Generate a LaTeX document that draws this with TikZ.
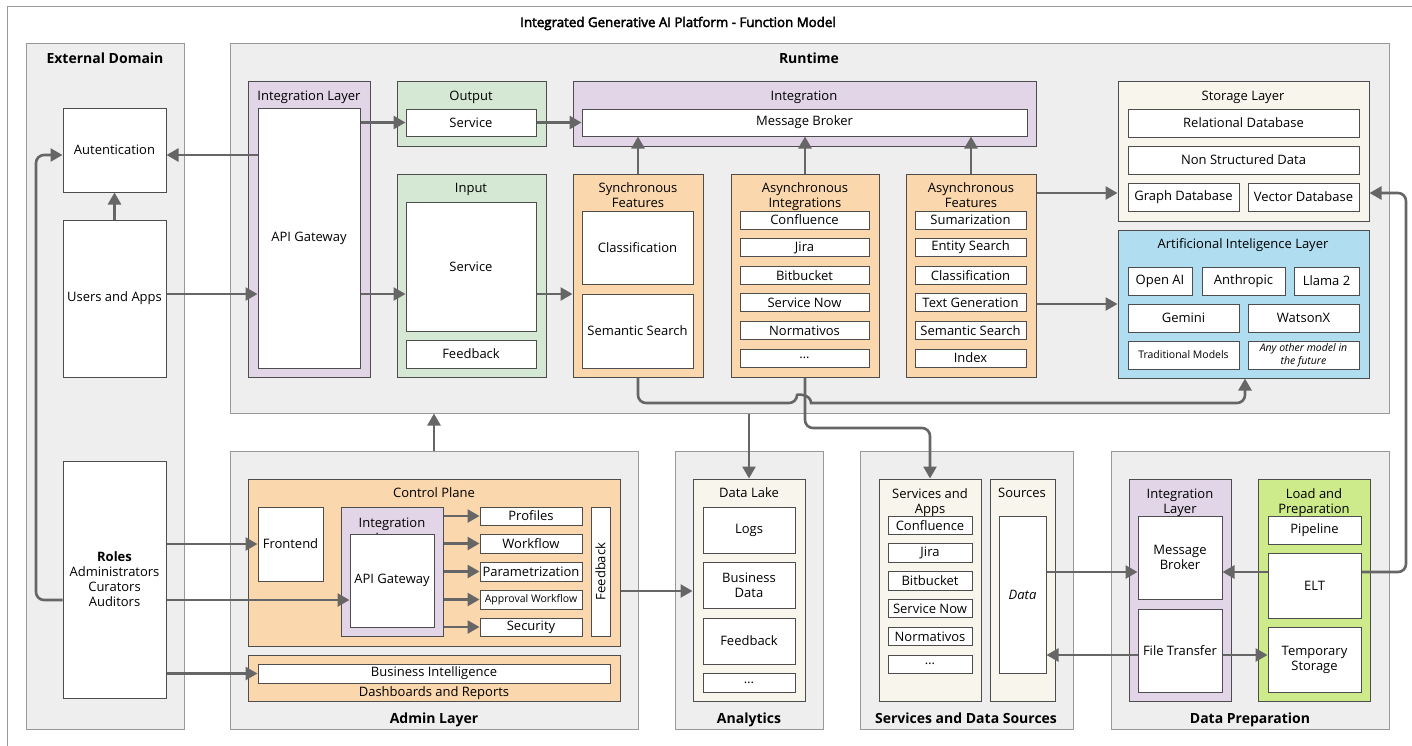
\documentclass[tikz,border=0pt]{standalone}
\usepackage{fontspec}
\setmainfont{Open Sans}
\newfontfamily\titlefont{Open Sans}[FakeBold=3]
\usetikzlibrary{positioning,fit,calc,arrows.meta}

\definecolor{contgray}{HTML}{EEEEEE}
\definecolor{contline}{HTML}{999999}
\definecolor{boxline}{HTML}{4D4D4D}
\definecolor{purplefill}{HTML}{E1D5E7}
\definecolor{greenfill}{HTML}{D5E8D4}
\definecolor{orangefill}{HTML}{FAD7AC}
\definecolor{creamfill}{HTML}{F7F5EC}
\definecolor{bluefill}{HTML}{B1DDF0}
\definecolor{limefill}{HTML}{CDEB8B}
\definecolor{arrowgray}{HTML}{666666}

\begin{document}
\begin{tikzpicture}[x=1pt, y=-1pt, font=\fontsize{13}{15}\selectfont,
	cont/.style={draw=contline, fill=contgray, inner sep=0pt, line width=1pt},
	grp/.style={draw=boxline, inner sep=0pt, line width=1pt},
	wbox/.style={draw=boxline, fill=white, inner sep=0pt, line width=1pt},
	txt/.style={label={[align=center]center:#1}},
	stxt/.style={label={[align=center, font=\fontsize{10.5}{13}\selectfont]center:#1}},
	lbl/.style={anchor=base},
	sect/.style={anchor=base, font=\bfseries\fontsize{14}{16}\selectfont},
	twoline/.style={align=center, anchor=north},
	conn/.style={draw=arrowgray, line width=2.6pt, -{Triangle[length=12pt,width=13pt]}, rounded corners=8pt}]
				\useasboundingbox (0,0) rectangle (1412,745);
				\draw[contline, line width=1pt] (7,6) rectangle (1440,770);
				\node[lbl, font=\titlefont\fontsize{13.3}{15}\selectfont] (title) at (678,27) {Integrated Generative AI Platform - Function Model};
				
				\node[cont, fit={(26,43) (184,729)}] (ext) {};
				\node[sect] (extlbl) at (105,63) {External Domain};
				\node[wbox, fit={(63,108) (166,192)}, txt={Autentication}] (auth) {};
				\node[wbox, fit={(63,220) (166,377)}, txt={Users and Apps}] (users) {};
				\node[wbox, fit={(63,461) (166,698)}, txt={\textbf{Roles}\\Administrators\\Curators\\Auditors}] (roles) {};
				
				\node[cont, fit={(230,43) (1389,413)}] (rt) {};
				\node[sect] (rtlbl) at (809,63) {Runtime};
				\node[grp, fill=purplefill, fit={(248,81) (370,377)}] (intl) {};
				\node[lbl] (intllbl) at (309,100) {Integration Layer};
				\node[wbox, fit={(258,108) (360,368)}, txt={API Gateway}] (apigw) {};
				\node[grp, fill=greenfill, fit={(397,81) (546,146)}] (outp) {};
				\node[lbl] (outplbl) at (471,100) {Output};
				\node[wbox, fit={(406,109) (536,136)}, txt={Service}] (outsvc) {};
				\node[grp, fill=greenfill, fit={(397,174) (546,377)}] (inp) {};
				\node[lbl] (inplbl) at (471,192) {Input};
				\node[wbox, fit={(406,202) (536,331)}, txt={Service}] (insvc) {};
				\node[wbox, fit={(406,340) (536,368)}, txt={Feedback}] (infb) {};
				\node[grp, fill=purplefill, fit={(573,81) (1036,146)}] (integ) {};
				\node[lbl] (integlbl) at (804,100) {Integration};
				\node[wbox, fit={(582,109) (1027,136)}, txt={Message Broker}] (mb) {};
				
				\node[grp, fill=orangefill, fit={(573,174) (703,377)}] (sync) {};
				\node[twoline] (synclbl) at (638,179) {Synchronous\\Features};
				\node[wbox, fit={(582,211) (693,284)}, txt={Classification}] (sclass) {};
				\node[wbox, fit={(582,294) (693,368)}, txt={Semantic Search}] (ssem) {};
				
				\node[grp, fill=orangefill, fit={(731,174) (879,377)}] (ainteg) {};
				\node[twoline] (ainteglbl) at (805,179) {Asynchronous\\Integrations};
				\foreach \t [count=\i] in {Confluence, Jira, Bitbucket, Service Now, Normativos, \ldots}
					\node[wbox, fit={(740,183.4+27.6*\i) (869,201.4+27.6*\i)}, txt=\t] (aint\i) {};
				
				\node[grp, fill=orangefill, fit={(906,174) (1036,377)}] (afeat) {};
				\node[twoline] (afeatlbl) at (971,179) {Asynchronous\\Features};
				\foreach \t [count=\i] in {Sumarization, Entity Search, Classification, Text Generation, Semantic Search, Index}
					\node[wbox, fit={(915,183.4+27.6*\i) (1026,201.4+27.6*\i)}, txt=\t] (feat\i) {};
				
				\node[grp, fill=creamfill, fit={(1118,81) (1369,221)}] (stor) {};
				\node[lbl] (storlbl) at (1243,100) {Storage Layer};
				\node[wbox, fit={(1128,109) (1359,137)}, txt={Relational Database}] (reldb) {};
				\node[wbox, fit={(1128,146) (1359,174)}, txt={Non Structured Data}] (nsd) {};
				\node[wbox, fit={(1128,183) (1239,211)}, txt={Graph Database}] (graphdb) {};
				\node[wbox, fit={(1248,183) (1359,211)}, txt={Vector Database}] (vecdb) {};
				
				\node[grp, fill=bluefill, fit={(1118,230) (1369,378)}] (ail) {};
				\node[lbl] (aillbl) at (1243,248) {Artificional Inteligence Layer};
				\node[wbox, fit={(1128,267) (1192,295)}, txt={Open AI}] (openai) {};
				\node[wbox, fit={(1202,267) (1285,295)}, txt={Anthropic}] (anthropic) {};
				\node[wbox, fit={(1294,267) (1359,295)}, txt={Llama 2}] (llama) {};
				\node[wbox, fit={(1128,304) (1239,332)}, txt={Gemini}] (gemini) {};
				\node[wbox, fit={(1248,304) (1359,332)}, txt={WatsonX}] (watsonx) {};
				\node[wbox, fit={(1128,341) (1239,369)}, stxt={Traditional Models}] (tradm) {};
				\node[wbox, fit={(1248,341) (1359,369)}, stxt={\itshape Any other model in\\\itshape the future}] (othm) {};
				
				\node[cont, fit={(230,451) (638,729)}] (admin) {};
				\node[sect] (adminlbl) at (434,723) {Admin Layer};
				\node[grp, fill=orangefill, fit={(248,479) (620,646)}] (cp) {};
				\node[lbl] (cplbl) at (434,497) {Control Plane};
				\node[wbox, fit={(258,507) (323,581)}, txt={Frontend}] (frontend) {};
				\node[grp, fill=purplefill, fit={(341,507) (443,636)}] (cpint) {};
				\node[twoline] (cpintlbl) at (392,514) {Integration\\Layer};
				\node[wbox, fit={(350,534) (434,627)}, txt={API Gateway}] (cpgw) {};
				\node[wbox, fit={(480,507) (582,525)}, txt={Profiles}] (prof) {};
				\node[wbox, fit={(480,534) (582,553)}, txt={Workflow}] (wflow) {};
				\node[wbox, fit={(480,562) (582,581)}, txt={Parametrization}] (param) {};
				\node[wbox, fit={(480,590) (582,609)}, stxt={Approval Workflow}] (apprv) {};
				\node[wbox, fit={(480,618) (582,636)}, txt={Security}] (secu) {};
				\node[wbox, fit={(591,507) (610,636)}] (cpfb) {};
				\node[rotate=90] (cpfblbl) at (cpfb.center) {Feedback};
				\node[grp, fill=orangefill, fit={(248,655) (620,701)}] (bi) {};
				\node[wbox, fit={(258,664) (610,683)}, txt={Business Intelligence}] (biw) {};
				\node[lbl] (bilbl) at (434,696) {Dashboards and Reports};
				
				\node[cont, fit={(675,451) (823,729)}] (anl) {};
				\node[sect] (anllbl) at (749,723) {Analytics};
				\node[grp, fill=creamfill, fit={(693,479) (805,701)}] (dlake) {};
				\node[lbl] (dlakelbl) at (749,497) {Data Lake};
				\node[wbox, fit={(703,507) (795,553)}, txt={Logs}] (logs) {};
				\node[wbox, fit={(703,562) (795,608)}, txt={Business\\Data}] (bdata) {};
				\node[wbox, fit={(703,618) (795,664)}, txt={Feedback}] (dlfb) {};
				\node[wbox, fit={(703,673) (795,692)}, txt={\ldots}] (dlmore) {};
				
				\node[cont, fit={(860,451) (1073,729)}] (sds) {};
				\node[sect] (sdslbl) at (966,723) {Services and Data Sources};
				\node[grp, fill=creamfill, fit={(879,479) (981,701)}] (sapps) {};
				\node[twoline] (sappslbl) at (930,485) {Services and\\Apps};
				\foreach \t [count=\i] in {Confluence, Jira, Bitbucket, Service Now, Normativos, \ldots}
					\node[wbox, fit={(888,488.2+27.8*\i) (972,506.6+27.8*\i)}, txt=\t] (sapp\i) {};
				\node[grp, fill=creamfill, fit={(990,479) (1055,701)}] (src) {};
				\node[lbl] (srclbl) at (1022,497) {Sources};
				\node[wbox, fit={(999,516) (1046,673)}, txt={\itshape Data}] (data) {};
				
				\node[cont, fit={(1111,451) (1389,729)}] (dprep) {};
				\node[sect] (dpreplbl) at (1250,723) {Data Preparation};
				\node[grp, fill=purplefill, fit={(1129,479) (1231,701)}] (dpint) {};
				\node[twoline] (dpintlbl) at (1180,485) {Integration\\Layer};
				\node[wbox, fit={(1138,516) (1222,599)}, txt={Message\\Broker}] (dpmb) {};
				\node[wbox, fit={(1138,609) (1222,692)}, txt={File Transfer}] (ftr) {};
				\node[grp, fill=limefill, fit={(1258,479) (1370,701)}] (lprep) {};
				\node[twoline] (lpreplbl) at (1314,485) {Load and\\Preparation};
				\node[wbox, fit={(1268,516) (1361,544)}, txt={Pipeline}] (pipe) {};
				\node[wbox, fit={(1268,553) (1361,618)}, txt={ELT}] (elt) {};
				\node[wbox, fit={(1268,627) (1361,692)}, txt={Temporary\\Storage}] (temp) {};
				
				\coordinate (yauth) at (0,155);
				\coordinate (yusr) at (0,294);
				\coordinate (ystor) at (0,193);
				\coordinate (yail) at (0,304);
				\coordinate (yrol) at (0,600);
				\coordinate (ycp) at (0,591);
				\coordinate (ydat) at (0,572);
				\coordinate (yft) at (0,655);
				\coordinate (xleft) at (36,0);
				\coordinate (xright) at (1406,0);
				\coordinate (xai) at (1245,0);
				\coordinate (hopl) at (797,403);
				\coordinate (hopr) at (811,403);
				
				\draw[conn] (users) -- (auth);
				\draw[conn] (apigw.west |- yauth) -- (auth.east |- yauth);
				\draw[conn] (roles.west |- yrol) -| (xleft |- yauth) -- (auth.west |- yauth);
				\draw[conn] (users.east |- yusr) -- (apigw.west |- yusr);
				\draw[conn] (apigw.east |- outsvc.west) -- (outsvc.west);
				\draw[conn] (apigw.east |- yusr) -- (insvc.west |- yusr);
				\draw[conn] (outsvc.east) -- (mb.west);
				\draw[conn] (insvc.east |- yusr) -- (sync.west |- yusr);
				\draw[conn] (sync.north) -- (sync.north |- mb.south);
				\draw[conn] (ainteg.north) -- (ainteg.north |- mb.south);
				\draw[conn] (afeat.north) -- (afeat.north |- mb.south);
				\draw[conn] (afeat.east |- ystor) -- (stor.west |- ystor);
				\draw[conn] (afeat.east |- yail) -- (ail.west |- yail);
				\draw[conn] (sync.south) |- (hopl) [sharp corners] .. controls +(0,-9) and +(0,-9) .. (hopr) [rounded corners=8pt] -| (ail.south -| xai);
				\draw[conn] (ainteg.south) |- ($(ainteg.south)!0.5!(sapps.north)$) -| (sapps.north);
				\draw[conn] (dlake.north |- rt.south) -- (dlake.north);
				\draw[conn] (admin.north) -- (admin.north |- rt.south);
				\draw[conn] (roles.east |- frontend.west) -- (frontend.west);
				\draw[conn] (roles.east |- yrol) -- (cpgw.west |- yrol);
				\draw[conn] (roles.east |- biw.west) -- (biw.west);
				\foreach \n in {prof, wflow, param, apprv, secu}
					\draw[conn] (cpint.east |- \n.west) -- (\n.west);
				\draw[conn] (cp.east |- ycp) -- (dlake.west |- ycp);
				\draw[conn] (data.east |- ydat) -- (dpmb.west |- ydat);
				\draw[conn] (elt.west |- ydat) -- (dpmb.east |- ydat);
				\draw[conn] (ftr.west |- yft) -- (data.east |- yft);
				\draw[conn] (ftr.east |- yft) -- (temp.west |- yft);
				\draw[conn] (elt.east |- ydat) -| (xright |- ystor) -- (stor.east |- ystor);
			\end{tikzpicture}
\end{document}
